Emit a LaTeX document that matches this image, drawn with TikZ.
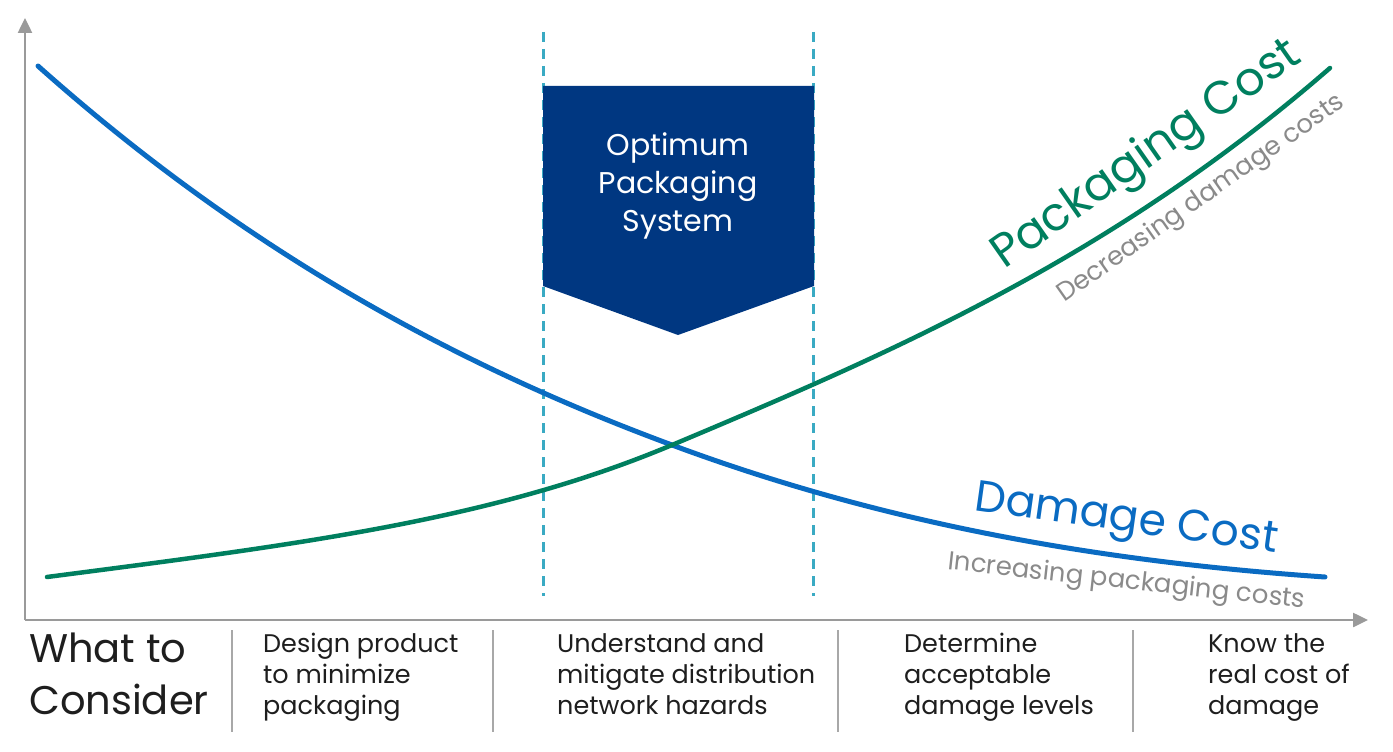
\documentclass[tikz,border=0pt]{standalone}
\usepackage{fontspec}
\setmainfont{Poppins}
\usetikzlibrary{arrows.meta}
\definecolor{dmgblue}{HTML}{0A6BC2}
\definecolor{pkggreen}{HTML}{007F5F}
\definecolor{navy}{HTML}{003781}
\definecolor{teal}{HTML}{3AAAC3}
\definecolor{axisgray}{HTML}{9A9A9A}
\definecolor{subgray}{HTML}{8A8A8A}
\definecolor{sepgray}{HTML}{A8A8A8}
\definecolor{textdark}{HTML}{1E1E1E}
\tikzset{
  axisline/.style={draw=axisgray, line width=2.5pt, -{Triangle[length=15pt,width=14pt]}},
  guide/.style={draw=teal, line width=3pt, dash pattern=on 10pt off 7pt},
  sepline/.style={draw=sepgray, line width=2pt},
  curve/.style={line width=5pt, line cap=round},
  colhead/.style={anchor=north west, inner sep=0pt, align=left, text=textdark, font=\fontsize{25.5}{31}\selectfont},
}
\begin{document}
\begin{tikzpicture}[x=1pt,y=-1pt]
\useasboundingbox (0,0) rectangle (1393,752);
% axes
\coordinate (origin) at (25,620);
\coordinate (ytip) at (25,18);
\coordinate (xtip) at (1368,620);
\draw[axisline] (origin) -- (ytip);
\draw[axisline] (origin) -- (xtip);
% guides
\coordinate (g1t) at (543,32); \coordinate (g1b) at (543,596);
\coordinate (g2t) at (813,32); \coordinate (g2b) at (813,596);
\draw[guide] (g1t) -- (g1b);
\draw[guide] (g2t) -- (g2b);
% pentagon
\fill[navy] (543,86) -- (814,86) -- (814,286) -- (678,335) -- (543,286) -- cycle;
\node[text=white, align=center, font=\fontsize{30}{38}\selectfont, inner sep=0pt] (opt) at (678,186) {Optimum\\Packaging\\System};
% curves
\coordinate (cross) at (672,445);
\coordinate (bstart) at (38,66);
\coordinate (bend) at (1325,577);
\coordinate (gstart) at (47,577);
\coordinate (gend) at (1330,68);
\draw[curve, draw=dmgblue] (bstart) .. controls (249,254) and (461,367) .. (cross)
  .. controls (890,526) and (1107,562) .. (bend);
\draw[curve, draw=pkggreen, line width=4.5pt] (gstart) .. controls (297,544.5) and (492,520.6) .. (cross)
  .. controls (891,353) and (1111,258.5) .. (gend);
% curve labels
\node[anchor=base west, inner sep=0pt, rotate=35, text=pkggreen, font=\fontsize{46.5}{50}\selectfont] (pkglbl) at (1004,270) {Packaging Cost};
\node[anchor=base west, inner sep=0pt, rotate=35, text=subgray, font=\fontsize{26}{30}\selectfont] (pkgsub) at (1064,303) {Decreasing damage costs};
\node[anchor=base west, inner sep=0pt, rotate=-8, text=dmgblue, font=\fontsize{44}{48}\selectfont] (dmglbl) at (973,510) {Damage Cost};
\node[anchor=base west, inner sep=0pt, rotate=-6.3, text=subgray, font=\fontsize{26}{30}\selectfont] (dmgsub) at (947,569) {Increasing packaging costs};
% bottom row
\node[anchor=north west, inner sep=0pt, align=left, text=textdark, font=\fontsize{40}{52}\selectfont] (what) at (29,633) {What to\\Consider};
\coordinate (s1t) at (232,630); \coordinate (s1b) at (232,732);
\coordinate (s2t) at (493,630); \coordinate (s2b) at (493,732);
\coordinate (s3t) at (838,630); \coordinate (s3b) at (838,732);
\coordinate (s4t) at (1133,630); \coordinate (s4b) at (1133,732);
\draw[sepline] (s1t) -- (s1b);
\draw[sepline] (s2t) -- (s2b);
\draw[sepline] (s3t) -- (s3b);
\draw[sepline] (s4t) -- (s4b);
\node[colhead] (c1) at (263,633) {Design product\\to minimize\\packaging};
\node[colhead] (c2) at (557,633) {Understand and\\mitigate distribution\\network hazards};
\node[colhead] (c3) at (904,633) {Determine\\acceptable\\damage levels};
\node[colhead] (c4) at (1208,633) {Know the\\real cost of\\damage};
\end{tikzpicture}
\end{document}
